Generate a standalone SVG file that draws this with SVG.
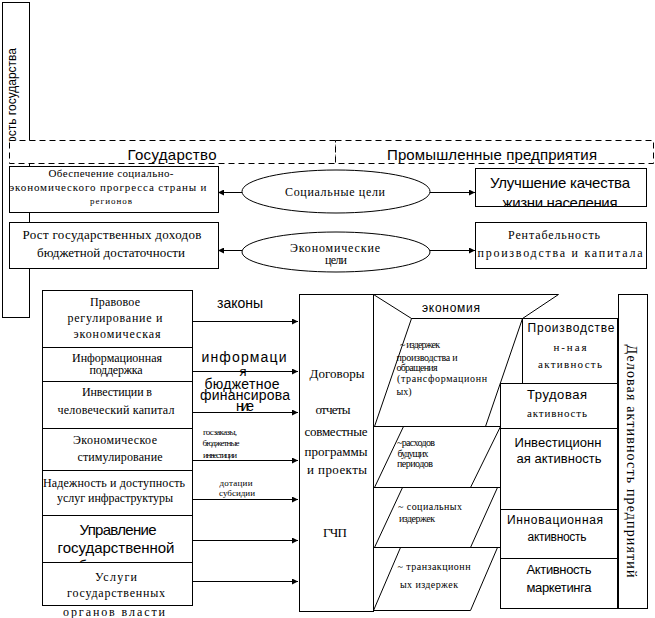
<svg xmlns="http://www.w3.org/2000/svg" width="655" height="618" viewBox="0 0 655 618">
<style>
.b{fill:#fff;stroke:#000;stroke-width:1}
.d{fill:#fff;stroke:#000;stroke-width:1;stroke-dasharray:6 4}
.l{fill:none;stroke:#000;stroke-width:1}
.sr{font-family:"Liberation Serif",serif;fill:#000}
.ss{font-family:"Liberation Sans",sans-serif;fill:#000}
text{text-anchor:middle}
</style>
<defs>
<marker id="ah" viewBox="0 0 10 10" refX="10" refY="5" markerWidth="7" markerHeight="6" orient="auto" markerUnits="userSpaceOnUse"><path d="M0,0 L10,5 L0,10 z" fill="#000"/></marker>
<clipPath id="c1"><rect x="42" y="290" width="150" height="57"/></clipPath>
<clipPath id="c6"><rect x="42" y="515" width="150" height="47"/></clipPath>
<clipPath id="cr1"><rect x="475" y="168" width="171" height="38.5"/></clipPath>
</defs>
<rect width="655" height="618" fill="#fff"/>

<g id="gov-activity">
<rect class="b" x="2.5" y="2.5" width="27" height="315"/>
<text class="ss" font-size="12" transform="translate(16,48) rotate(-90)" style="text-anchor:end">ость государства</text>
</g>

<g id="header">
<rect class="d" x="9.5" y="140.5" width="326" height="23"/>
<rect class="d" x="335.5" y="140.5" width="318" height="23"/>
<text class="ss" x="172" y="160" font-size="15" textLength="89">Государство</text>
<text class="ss" x="492" y="160" font-size="15" textLength="210">Промышленные предприятия</text>
</g>

<g id="box-progress">
<rect class="b" x="9.5" y="166.5" width="209" height="46"/>
<text class="sr" x="111" y="177" font-size="11" textLength="125">Обеспечение социально-</text>
<text class="sr" x="108" y="191" font-size="11" textLength="197">экономического прогресса страны и</text>
<text class="sr" x="111" y="204" font-size="9" textLength="42">регионов</text>
</g>
<g id="box-income">
<rect class="b" x="9.5" y="222.5" width="209" height="46"/>
<text class="sr" x="112" y="239" font-size="13" textLength="179">Рост государственных доходов</text>
<text class="sr" x="111" y="257" font-size="13" textLength="148">бюджетной достаточности</text>
</g>
<g id="ell-social">
<ellipse class="b" cx="336" cy="191.5" rx="94" ry="21.5"/>
<text class="sr" x="335" y="196" font-size="12" textLength="100">Социальные цели</text>
</g>
<g id="ell-econ">
<ellipse class="b" cx="336" cy="252" rx="94" ry="20"/>
<text class="sr" x="335" y="252" font-size="12" textLength="90">Экономические</text>
<text class="sr" x="336" y="264" font-size="12" textLength="22">цели</text>
</g>
<g id="box-life">
<rect class="b" x="475.5" y="168.5" width="171" height="38"/>
<g clip-path="url(#cr1)">
<text class="ss" x="560" y="188" font-size="15" textLength="140">Улучшение качества</text>
<text class="ss" x="560" y="208" font-size="15" textLength="115">жизни населения</text>
</g>
</g>
<g id="box-profit">
<rect class="b" x="475.5" y="222.5" width="171" height="46"/>
<text class="sr" x="554" y="239" font-size="12" textLength="92">Рентабельность</text>
<text class="sr" x="560" y="257" font-size="12" textLength="165">производства и капитала</text>
</g>

<g id="lb1">
<rect class="b" x="42.5" y="290.5" width="150" height="57"/>
<g clip-path="url(#c1)">
<text class="sr" x="115" y="306" font-size="12" textLength="50">Правовое</text>
<text class="sr" x="115" y="322" font-size="12" textLength="95">регулирование и</text>
<text class="sr" x="117" y="338" font-size="12" textLength="87">экономическая</text>
<text class="sr" x="117" y="356" font-size="12" textLength="80">безопасность</text>
</g>
</g>
<g id="lb2">
<rect class="b" x="42.5" y="347.5" width="150" height="34"/>
<text class="sr" x="117" y="362" font-size="12" textLength="90">Информационная</text>
<text class="sr" x="116" y="374" font-size="12" textLength="53">поддержка</text>
</g>
<g id="lb3">
<rect class="b" x="42.5" y="381.5" width="150" height="47"/>
<text class="sr" x="117" y="396" font-size="12" textLength="70">Инвестиции в</text>
<text class="sr" x="116" y="414" font-size="12" textLength="117">человеческий капитал</text>
</g>
<g id="lb4">
<rect class="b" x="42.5" y="428.5" width="150" height="42"/>
<text class="sr" x="115" y="444" font-size="12" textLength="84">Экономическое</text>
<text class="sr" x="120" y="461" font-size="12" textLength="85">стимулирование</text>
</g>
<g id="lb5">
<rect class="b" x="42.5" y="470.5" width="150" height="45"/>
<text class="sr" x="114" y="487" font-size="12" textLength="142">Надежность и доступность</text>
<text class="sr" x="115" y="502" font-size="12" textLength="116">услуг инфраструктуры</text>
</g>
<g id="lb6">
<rect class="b" x="42.5" y="515.5" width="150" height="47"/>
<g clip-path="url(#c6)">
<text class="ss" x="118" y="535" font-size="15" textLength="77">Управление</text>
<text class="ss" x="116" y="553" font-size="15" textLength="117">государственной</text>
<text class="ss" x="116" y="571" font-size="15" textLength="105">собственностью</text>
</g>
</g>
<g id="lb7">
<rect class="b" x="42.5" y="562.5" width="150" height="43"/>
<text class="sr" x="116" y="581" font-size="12" textLength="42">Услуги</text>
<text class="sr" x="116" y="597" font-size="12" textLength="98">государственных</text>
<text class="sr" x="114" y="616" font-size="12" textLength="102">органов власти</text>
</g>

<g id="connectors">
<line class="l" x1="242" y1="192.5" x2="218" y2="192.5" marker-end="url(#ah)"/>
<line class="l" x1="430" y1="192.5" x2="475" y2="192.5" marker-end="url(#ah)"/>
<line class="l" x1="242" y1="250.5" x2="218" y2="250.5" marker-end="url(#ah)"/>
<line class="l" x1="430" y1="250.5" x2="475" y2="250.5" marker-end="url(#ah)"/>
<line class="l" x1="192" y1="321.5" x2="298" y2="321.5" marker-end="url(#ah)"/>
<line class="l" x1="192" y1="371.5" x2="298" y2="371.5" marker-end="url(#ah)"/>
<line class="l" x1="192" y1="412.5" x2="298" y2="412.5" marker-end="url(#ah)"/>
<line class="l" x1="192" y1="460.5" x2="298" y2="460.5" marker-end="url(#ah)"/>
<line class="l" x1="192" y1="499.5" x2="298" y2="499.5" marker-end="url(#ah)"/>
<line class="l" x1="192" y1="540.5" x2="298" y2="540.5" marker-end="url(#ah)"/>
<line class="l" x1="192" y1="581.5" x2="298" y2="581.5" marker-end="url(#ah)"/>
</g>

<g id="arrow-labels">
<text class="ss" x="240" y="308" font-size="14" textLength="46">законы</text>
<text class="ss" x="244" y="362" font-size="14" textLength="85">информаци</text>
<text class="ss" x="243" y="376" font-size="13">я</text>
<text class="ss" x="242" y="389" font-size="14" textLength="75">бюджетное</text>
<text class="ss" x="245" y="400" font-size="14" textLength="90">финансирова</text>
<text class="ss" x="245" y="411" font-size="14" textLength="18">ние</text>
<text class="sr" x="220" y="435" font-size="9" textLength="34">госзаказы,</text>
<text class="sr" x="221" y="446" font-size="9" textLength="37">бюджетные</text>
<text class="sr" x="220" y="458" font-size="9" textLength="34">инвестиции</text>
<text class="sr" x="236" y="486" font-size="9" textLength="33">дотации</text>
<text class="sr" x="237" y="496" font-size="9" textLength="36">субсидии</text>
</g>

<g id="center">
<rect class="b" x="299.5" y="294.5" width="74" height="317"/>
<text class="sr" x="337" y="378" font-size="13" textLength="55">Договоры</text>
<text class="sr" x="333" y="414" font-size="13" textLength="35">отчеты</text>
<text class="sr" x="336" y="436" font-size="13" textLength="63">совместные</text>
<text class="sr" x="336" y="456" font-size="13" textLength="63">программы</text>
<text class="sr" x="337" y="474" font-size="13" textLength="60">и проекты</text>
<text class="sr" x="335" y="537" font-size="13" textLength="24">ГЧП</text>
</g>

<g id="economy">
<polygon class="b" points="373.5,294.5 558.5,294.5 522.5,318.5 411.5,318.5"/>
<text class="ss" x="451" y="312" font-size="12" textLength="58">экономия</text>
</g>
<g id="par1">
<line class="l" x1="373" y1="426.5" x2="500" y2="426.5"/>
<polygon class="l" points="411.5,318.5 522.5,318.5 485.5,426.5 374.5,426.5"/>
<text class="sr" x="420" y="348" font-size="10" textLength="40">~ издержек</text>
<text class="sr" x="427" y="361" font-size="10" textLength="61">производства и</text>
<text class="sr" x="417" y="371" font-size="10" textLength="41">обращения</text>
<text class="sr" x="442" y="382" font-size="10" textLength="90">(трансформационн</text>
<text class="sr" x="404" y="395" font-size="10" textLength="15">ых)</text>
</g>
<g id="par2">
<line class="l" x1="373" y1="487.5" x2="500" y2="487.5"/>
<polygon class="l" points="403.5,426.5 500.5,426.5 470.5,487.5 374.5,487.5"/>
<text class="sr" x="416" y="446" font-size="10" textLength="38">~расходов</text>
<text class="sr" x="413" y="457" font-size="10" textLength="31">будущих</text>
<text class="sr" x="415" y="467" font-size="10" textLength="36">периодов</text>
</g>
<g id="par3">
<line class="l" x1="373" y1="547.5" x2="500" y2="547.5"/>
<polygon class="l" points="402.5,487.5 497.5,487.5 470.5,547.5 374.5,547.5"/>
<text class="sr" x="430" y="510" font-size="10" textLength="64">~ социальных</text>
<text class="sr" x="417" y="522" font-size="10" textLength="36">издержек</text>
</g>
<g id="par4">
<polygon class="l" points="400.5,547.5 497.5,547.5 470.5,610.5 373.5,610.5"/>
<text class="sr" x="434" y="570" font-size="10" textLength="73">~ транзакционн</text>
<text class="sr" x="429" y="588" font-size="10" textLength="58">ых издержек</text>
</g>

<g id="rb-prod">
<rect class="b" x="522.5" y="318.5" width="95" height="65"/>
<text class="ss" x="571" y="332" font-size="12" textLength="87">Производстве</text>
<text class="sr" x="570" y="351" font-size="11" textLength="33">н-ная</text>
<text class="sr" x="570" y="368" font-size="11" textLength="64">активность</text>
</g>
<g id="rb-labor">
<rect class="b" x="500.5" y="383.5" width="117" height="45"/>
<text class="ss" x="557" y="399" font-size="13" textLength="60">Трудовая</text>
<text class="sr" x="557" y="417" font-size="11" textLength="60">активность</text>
</g>
<g id="rb-invest">
<rect class="b" x="500.5" y="428.5" width="117" height="81"/>
<text class="ss" x="558" y="447" font-size="13" textLength="87">Инвестиционн</text>
<text class="ss" x="559" y="463" font-size="13" textLength="85">ая активность</text>
</g>
<g id="rb-innov">
<rect class="b" x="500.5" y="509.5" width="117" height="49"/>
<text class="ss" x="555" y="524" font-size="12" textLength="96">Инновационная</text>
<text class="ss" x="557" y="541" font-size="12" textLength="59">активность</text>
</g>
<g id="rb-market">
<rect class="b" x="500.5" y="558.5" width="117" height="50"/>
<text class="ss" x="559" y="574" font-size="13" textLength="65">Активность</text>
<text class="ss" x="559" y="592" font-size="13" textLength="65">маркетинга</text>
</g>
<g id="business-activity">
<rect class="b" x="618.5" y="294.5" width="29" height="314"/>
<text class="sr" font-size="14" transform="translate(627,461) rotate(90)" textLength="233">Деловая активность предприятий</text>
</g>
</svg>
